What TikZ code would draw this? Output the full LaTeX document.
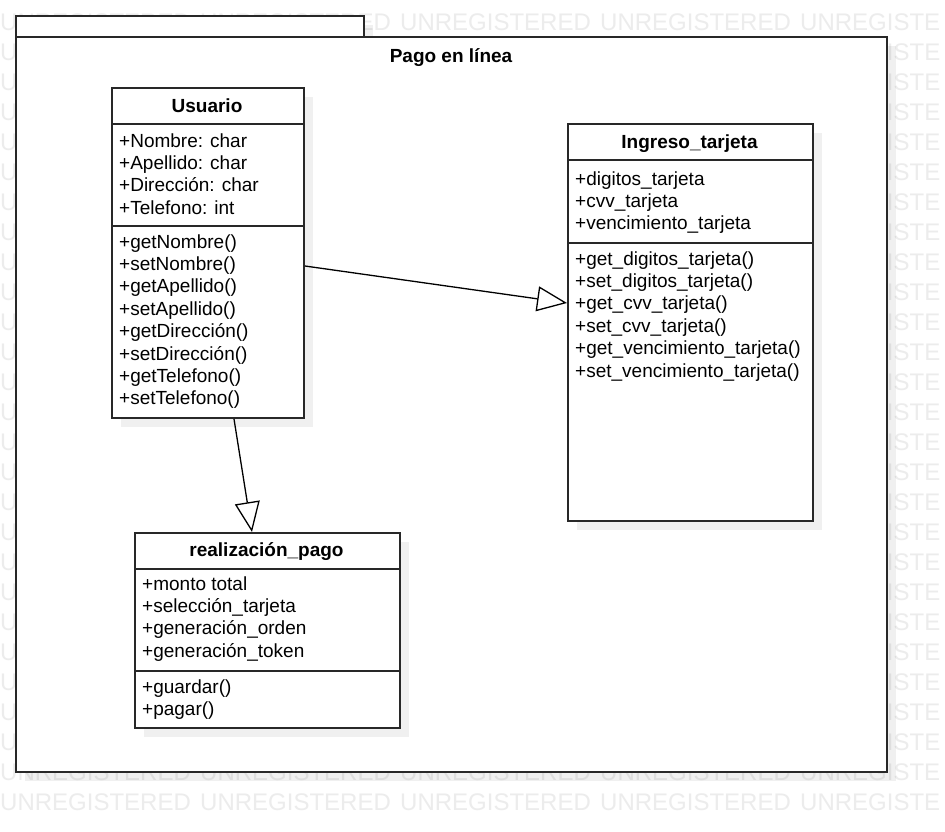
\documentclass[tikz,border=0pt]{standalone}
\usepackage{fontspec}
\setmainfont{Liberation Sans}
\usetikzlibrary{arrows.meta}
\definecolor{wm}{RGB}{236,236,236}
\definecolor{bord}{RGB}{40,40,40}
\tikzset{
  box/.style={draw=bord, line width=2pt, fill=white, inner sep=0pt, anchor=north west},
  shadowfill/.style={fill=black, fill opacity=0.06},
  txt/.style={anchor=base west, inner sep=0pt, font=\fontsize{19}{22}\selectfont, text=black},
  ttl/.style={anchor=base, inner sep=0pt, font=\fontsize{19}{22}\selectfont\bfseries, text=black},
  wmtxt/.style={anchor=base west, inner sep=0pt, font=\fontsize{24}{28}\selectfont, text=wm},
  sepline/.style={draw=bord, line width=1.5pt},
  gen/.style={draw=black, line width=1.3pt, -{Triangle[open, length=30pt, width=25pt, fill=white]}},
}
\begin{document}
\begin{tikzpicture}[x=1pt,y=-1pt]
\useasboundingbox (0,0) rectangle (945,831);
\fill[white] (0,0) rectangle (945,831);
% watermark (only the parts that are not hidden)
\foreach \r in {0,25,26}{
  \foreach \k in {0,...,3}{
    \node[wmtxt] (wm-\r-\k) at ({200*\k},{30+30*\r}) {UNREGISTERED};
  }
  \node[wmtxt] (wm-\r-4) at (800,{30+30*\r}) {UNREGISTE};
}
\foreach \r in {1,...,24}{
  \node[wmtxt] (wml-\r) at (0,{30+30*\r}) {U};
  \node[wmtxt] (wmr-\r) at (886.7,{30+30*\r}) {ISTE};
}
% package
\fill[shadowfill] (25,25) rectangle (373,46);
\fill[shadowfill] (25,46) rectangle (896,781);
\node[box, minimum width=348pt, minimum height=21pt] (pkgtab) at (15,15) {};
\node[box, minimum width=871pt, minimum height=735pt] (pkg) at (15,36) {};
\node[ttl] (pkgtitle) at (451,62) {Pago en línea};
% shadows of classes
\fill[shadowfill] (121,97) rectangle (313,427);
\fill[shadowfill] (577,133) rectangle (822,530);
\fill[shadowfill] (144,542) rectangle (409,737);
% Usuario
\node[box, minimum width=192pt, minimum height=330pt] (usu) at (111,87) {};
\draw[sepline] (usu.west |- 0,124) -- (usu.east |- 0,124);
\draw[sepline] (usu.west |- 0,226) -- (usu.east |- 0,226);
\node[ttl] (usutitle) at (207,112) {Usuario};
\foreach \t [count=\i] in {+Nombre: char,+Apellido: char,+Dirección: char,+Telefono: int}
  \node[txt] (usua\i) at (119,{147+22.4*(\i-1)}) {\t};
\foreach \t [count=\i] in {+getNombre(),+setNombre(),+getApellido(),+setApellido(),+getDirección(),+setDirección(),+getTelefono(),+setTelefono()}
  \node[txt] (usum\i) at (119,{248+22.4*(\i-1)}) {\t};
% Ingreso_tarjeta
\node[box, minimum width=245pt, minimum height=397pt] (ing) at (567,123) {};
\draw[sepline] (ing.west |- 0,160) -- (ing.east |- 0,160);
\draw[sepline] (ing.west |- 0,243) -- (ing.east |- 0,243);
\node[ttl] (ingtitle) at (689.5,148) {Ingreso\_tarjeta};
\foreach \t [count=\i] in {+digitos\_tarjeta,+cvv\_tarjeta,+vencimiento\_tarjeta}
  \node[txt] (inga\i) at (575,{185+22.4*(\i-1)}) {\t};
\foreach \t [count=\i] in {+get\_digitos\_tarjeta(),+set\_digitos\_tarjeta(),+get\_cvv\_tarjeta(),+set\_cvv\_tarjeta(),+get\_vencimiento\_tarjeta(),+set\_vencimiento\_tarjeta()}
  \node[txt] (ingm\i) at (575,{265+22.4*(\i-1)}) {\t};
% realizacion_pago
\node[box, minimum width=265pt, minimum height=195pt] (real) at (134,532) {};
\draw[sepline] (real.west |- 0,569) -- (real.east |- 0,569);
\draw[sepline] (real.west |- 0,671) -- (real.east |- 0,671);
\node[ttl] (realtitle) at (266.5,556) {realización\_pago};
\foreach \t [count=\i] in {+monto total,+selección\_tarjeta,+generación\_orden,+generación\_token}
  \node[txt] (reala\i) at (142,{590+22.4*(\i-1)}) {\t};
\foreach \t [count=\i] in {+guardar(),+pagar()}
  \node[txt] (realm\i) at (142,{693+22*(\i-1)}) {\t};
% connectors
\draw[gen] ([yshift=-13pt]usu.east) -- ([yshift=19.5pt]ing.west);
\draw[gen] ([xshift=26pt]usu.south) -- ([xshift=-15.5pt]real.north);
\end{tikzpicture}
\end{document}
